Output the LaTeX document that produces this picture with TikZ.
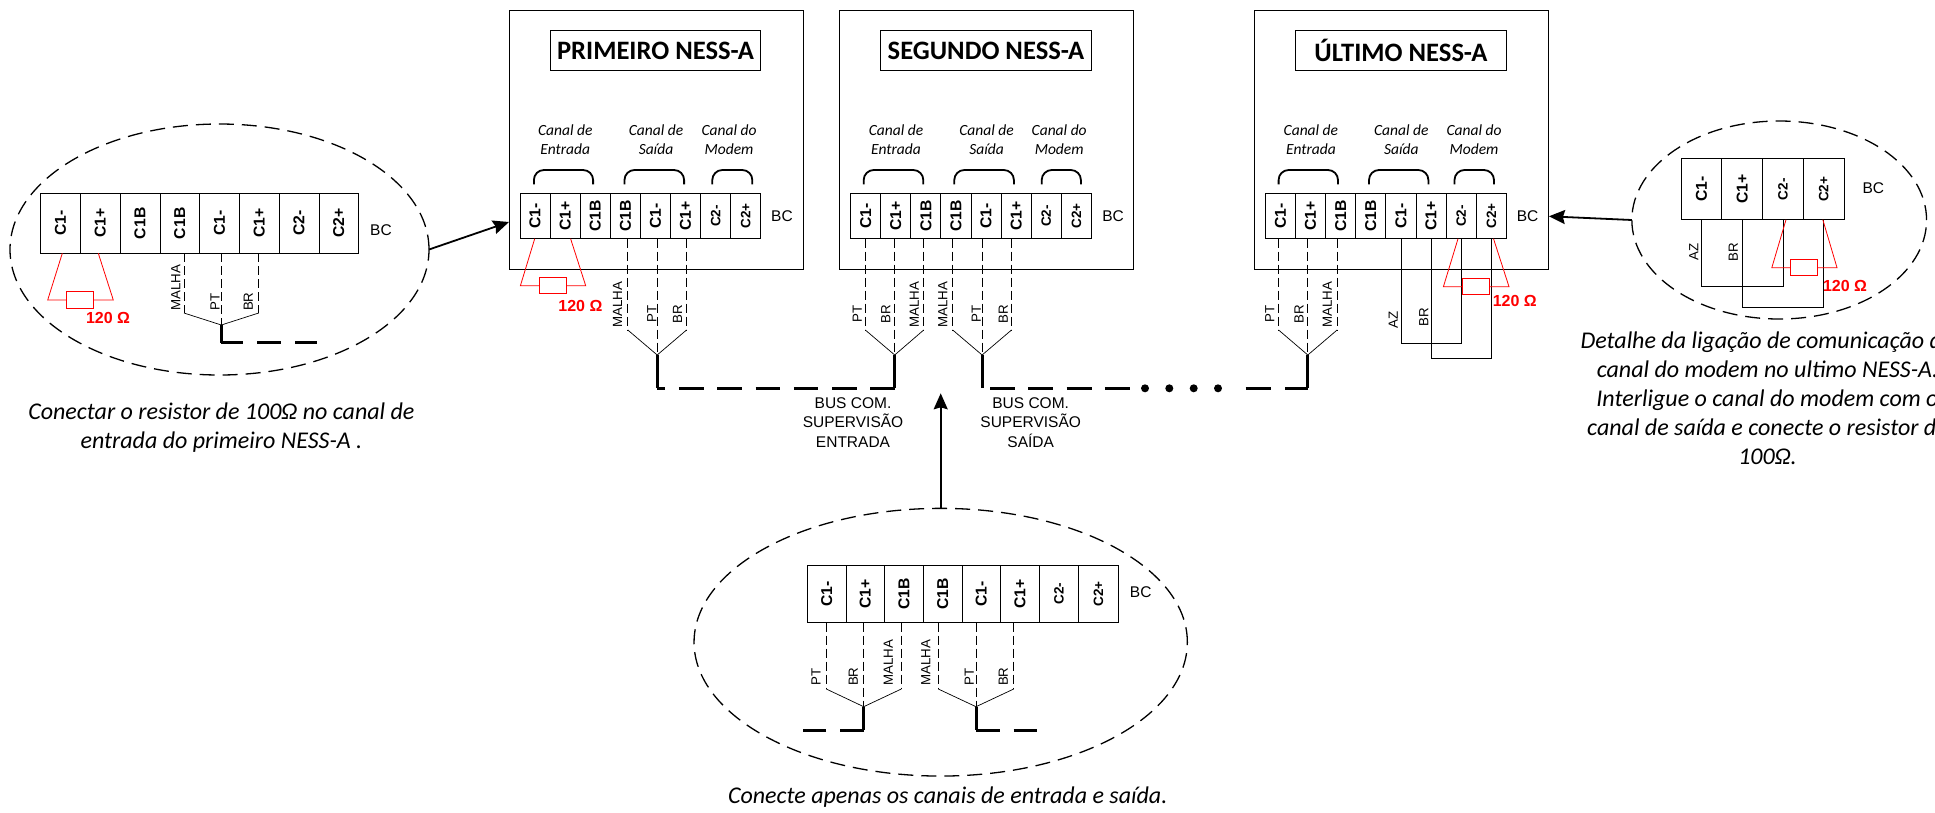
\documentclass[tikz,border=0pt]{standalone}
\usepackage{fontspec}
\setmainfont{Carlito}
\setsansfont{Liberation Sans}
\usetikzlibrary{shapes.geometric, arrows.meta, positioning}

\newcommand{\termb}{\sffamily\bfseries\fontsize{15.7}{15.7}\selectfont}
\newcommand{\terml}{\sffamily\bfseries\fontsize{13.5}{13.5}\selectfont}

% terminal strip: name, left, top, cell width, cell height, labels
\newcommand{\ctstrip}[6]{
	\foreach \lab/\sty [count=\i] in {#6}
		\node [termcell, minimum width=#4, minimum height=#5] (#1-\i) at ({#2+(\i-0.5)*#4},{#3+#5/2}) {\rotatebox{90}{\sty \lab}};
}

\tikzset{
	termcell/.style={draw, inner sep=0, outer sep=0, line width=0.9pt},
	nessbox/.style={draw, inner sep=0, outer sep=0, line width=1pt},
	nesstitle/.style={draw, inner sep=0, outer sep=0, line width=1pt, font=\bfseries\fontsize{26.6}{26.6}\selectfont},
	detail/.style={draw, ellipse, inner sep=0, outer sep=0, line width=1.3pt, dash pattern=on 15pt off 8pt},
	bclabel/.style={inner sep=0, font=\sffamily\fontsize{15.5}{15.5}\selectfont},
	wirelabel/.style={inner sep=0, rotate=90, font=\sffamily\fontsize{13.3}{13.3}\selectfont},
	canallabel/.style={inner sep=0, align=center, font=\itshape\fontsize{15.5}{19}\selectfont},
	buslabel/.style={inner sep=0, align=center, font=\sffamily\fontsize{15.5}{19.5}\selectfont},
	caption/.style={inner sep=0, align=center, font=\itshape\fontsize{24}{29}\selectfont},
	bracket/.style={line width=1.8pt, rounded corners=10pt},
	wire/.style={line width=0.7pt},
	wiredash/.style={line width=0.8pt, dash pattern=on 9pt off 4pt},
	busline/.style={line width=3pt},
	busdash/.style={line width=3pt, dash pattern=on 24.6pt off 13.7pt},
	busdot/.style={circle, fill, inner sep=0, minimum size=8pt},
	redwire/.style={red, line width=0.8pt},
	resbox/.style={draw=red, fill=white, inner sep=0, outer sep=0, line width=0.9pt},
	reslabel/.style={inner sep=0, red, font=\sffamily\bfseries\fontsize{16}{16}\selectfont},
	bigarrow/.style={line width=1.8pt, -{Stealth[length=16pt, width=14pt, inset=2pt]}}
}

\begin{document}
\begin{tikzpicture}[x=1pt, y=-1pt]
	\useasboundingbox (0,0) rectangle (1935,812);

	% the three units
	\node [nessbox, minimum width=294.3, minimum height=258.6] (box1) at (656.15,140) {};
	\node [nessbox, minimum width=294.3, minimum height=258.6] (box2) at (986.75,140) {};
	\node [nessbox, minimum width=293.9, minimum height=258.6] (box3) at (1401.55,140) {};
	\node [nesstitle, minimum width=210.6, minimum height=40] (tit1) at (655.5,50.7) {PRIMEIRO NESS-A};
	\node [nesstitle, minimum width=211.1, minimum height=40] (tit2) at (985.95,50.7) {SEGUNDO NESS-A};
	\node [nesstitle, minimum width=211, minimum height=40] (tit3) at (1400.9,50.7) {ÚLTIMO NESS-A};

	% the detail ellipses
	\node [detail, minimum width=419, minimum height=251] (det1) at (219.5,249.5) {};
	\node [detail, minimum width=493.3, minimum height=267.7] (det2) at (940.7,642.2) {};
	\node [detail, minimum width=294.7, minimum height=198] (det3) at (1779.2,220) {};

	% terminal strips
	\ctstrip{p}{520}{193.3}{30.1}{45.4}{C1-/\termb,C1+/\termb,C1B/\termb,C1B/\termb,C1-/\termb,C1+/\termb,C2-/\terml,C2+/\terml}
	\ctstrip{s}{850.6}{193.3}{30.1}{45.4}{C1-/\termb,C1+/\termb,C1B/\termb,C1B/\termb,C1-/\termb,C1+/\termb,C2-/\terml,C2+/\terml}
	\ctstrip{u}{1265.3}{193.3}{30.14}{45.4}{C1-/\termb,C1+/\termb,C1B/\termb,C1B/\termb,C1-/\termb,C1+/\termb,C2-/\terml,C2+/\terml}
	\ctstrip{da}{40.7}{193.3}{39.75}{60}{C1-/\termb,C1+/\termb,C1B/\termb,C1B/\termb,C1-/\termb,C1+/\termb,C2-/\termb,C2+/\termb}
	\ctstrip{db}{807.3}{565}{38.67}{57.7}{C1-/\termb,C1+/\termb,C1B/\termb,C1B/\termb,C1-/\termb,C1+/\termb}
	\ctstrip{dc}{1039.3}{565}{39.5}{57.7}{C2-/\terml,C2+/\terml}
	\ctstrip{dd}{1681}{158.7}{40.75}{61}{C1-/\termb,C1+/\termb,C2-/\terml,C2+/\terml}

	\foreach \x/\y [count=\i] in {381/230,782/215.7,1113.1/215.7,1527.6/215.7,1140.7/591.7,1873.3/188.3}
		\node [bclabel] (bc\i) at (\x,\y) {BC};

	% channel captions and their brackets
	\foreach \x/\txt [count=\i] in {565.3/Canal de\\Entrada,656/Canal de\\Saída,729/Canal do\\Modem,
		896/Canal de\\Entrada,986.6/Canal de\\Saída,1059.2/Canal do\\Modem,
		1310.9/Canal de\\Entrada,1401.3/Canal de\\Saída,1474/Canal do\\Modem}
		\node [canallabel] (can\i) at (\x,139.5) {\txt};
	\foreach \xa/\xb in {533.9/593.1,624.5/684.1,712.3/752.3,863.7/923.3,954.3/1013.9,1041.7/1080.9,1278.6/1338,1369/1428.4,1454.5/1494}
		\draw [bracket] (\xa,184.3) -- (\xa,170) -- (\xb,170) -- (\xb,184.3);

	% cable fans
	\foreach \nm/\ca/\cb/\cc/\xa/\xb/\xc/\ye/\yj/\yb in {
		fa/da-4/da-5/da-6/184/221.3/258.7/313/325/342.7,
		fb/p-4/p-5/p-6/627.8/657.2/686.5/330/355/388.3,
		fc/s-1/s-2/s-3/865.3/894.7/923.7/330/355/388.3,
		fd/s-4/s-5/s-6/952.7/982.1/1011.5/330/355/388.3,
		fe/u-1/u-2/u-3/1278.6/1307.8/1337.1/330/355/388.3,
		ff/db-1/db-2/db-3/826.3/863.7/901.3/689/706.7/730.3,
		fg/db-4/db-5/db-6/938.3/976/1013.7/689/706.7/730.3}
	{
		\coordinate (\nm a) at (\xa,\ye);
		\coordinate (\nm c) at (\xc,\ye);
		\coordinate (\nm j) at (\xb,\yj);
		\coordinate (\nm k) at (\xb,\yb);
		\draw [wiredash] (\ca.south -| \nm a) -- (\nm a);
		\draw [wiredash] (\cb.south -| \nm j) -- (\nm j);
		\draw [wiredash] (\cc.south -| \nm c) -- (\nm c);
		\draw [wire] (\nm a) -- (\nm j) -- (\nm c);
		\draw [busline] (\nm j) -- (\nm k);
	}

	% bus runs
	\coordinate (faend) at (320,342.7);
	\coordinate (fbus) at (990,388.3);
	\coordinate (fbusend) at (1130,388.3);
	\coordinate (lbus) at (1245.7,388.3);
	\coordinate (ffend) at (802.3,730.3);
	\coordinate (fgend) at (1037.3,730.3);
	\draw [busdash, dash pattern=on 22pt off 14pt on 24pt off 14pt] (fak) -- (faend);
	\draw [busdash, dash phase=16.6pt] (fbk) -- (fck);
	\draw [busdash, dash pattern=on 25pt off 13.3pt] (fbus) -- (fbusend);
	\draw [busdash, dash pattern=on 25pt off 14.3pt] (lbus) -- (fek);
	\draw [busdash, dash pattern=on 23.5pt off 14pt] (ffk) -- (ffend);
	\draw [busdash, dash pattern=on 23.5pt off 14pt] (fgk) -- (fgend);
	\foreach \x [count=\i] in {1145,1169.3,1193.7,1218}
		\node [busdot] (dot\i) at (\x,388.3) {};

	% jumpers from modem channel to output channel
	\foreach \a/\b/\d in {u-5/u-7/104.6,u-6/u-8/119.6,dd-1/dd-3/66.6,dd-2/dd-4/87.3}
		\draw [wire] (\a.south) -- ++(0,\d) -| (\b.south);

	% terminating resistors
	\foreach \rn/\ca/\cb/\xa/\xl/\xc/\rw/\xr/\xb/\yc/\lx/\ly in {
		ra/da-1/da-2/62.3/47.7/80/26.6/113.3/98.3/300/108/318,
		rb/p-1/p-2/534.7/520.4/552.85/26.5/585.7/570.6/285.7/580.4/305.7,
		rc/u-7/u-8/1458/1443.4/1476/27/1509/1493.5/286.7/1514.8/300.7,
		rd/dd-3/dd-4/1786/1771.8/1804.2/26.6/1837/1822.8/267.7/1845/285.7}
	{
		\coordinate (\rn a) at (\xa,\yc);
		\coordinate (\rn b) at (\xb,\yc);
		\node [resbox, minimum width=\rw, minimum height=16.3] (\rn) at (\xc,\yc) {};
		\draw [redwire] (\ca.south -| \rn a) -- (\xl,\yc) -- (\rn.west);
		\draw [redwire] (\cb.south -| \rn b) -- (\xr,\yc) -- (\rn.east);
		\node [reslabel] (\rn t) at (\lx,\ly) {120 Ω};
	}

	% wire names
	\foreach \x/\y/\txt [count=\i] in {175.7/287.7/MALHA,215/301.7/PT,248.3/301.7/BR,
		617.6/305/MALHA,651.9/314/PT,677.6/314/BR,
		857.2/314/PT,885.7/314/BR,914.3/305/MALHA,942.9/305/MALHA,976.4/314/PT,1003.3/314/BR,
		1269.7/314/PT,1299/314/BR,1327.3/305/MALHA,1393.3/320/AZ,1423.9/317.3/BR,
		816/676.7/PT,853.3/676.7/BR,888.3/662.7/MALHA,925.7/662.7/MALHA,969.3/676.7/PT,1003.3/676.7/BR,
		1693.8/252.3/AZ,1733.3/252.3/BR}
		\node [wirelabel] (wl\i) at (\x,\y) {\txt};

	\node [buslabel] (busin) at (853,422.3) {BUS COM.\\SUPERVISÃO\\ENTRADA};
	\node [buslabel] (busout) at (1030.7,422.3) {BUS COM.\\SUPERVISÃO\\SAÍDA};

	% arrows from the details to the strips
	\coordinate (arra) at (509,222);
	\coordinate (arrb) at (940.7,393.3);
	\coordinate (arrc) at (1548.9,216.3);
	\draw [bigarrow] (det1.east) -- (arra);
	\draw [bigarrow] (det2.north) -- (arrb);
	\draw [bigarrow] (det3.west) -- (arrc);

	\node [caption] (capa) at (221.4,428) {Conectar o resistor de 100Ω no canal de\\entrada do primeiro NESS-A .};
	\node [caption] (capb) at (947.7,797.5) {Conecte apenas os canais de entrada e saída.};
	\node [caption] (capc) at (1767.5,398.5) {Detalhe da ligação de comunicação do\\canal do modem no ultimo NESS-A.\\Interligue o canal do modem com o\\canal de saída e conecte o resistor de\\100Ω.};
\end{tikzpicture}
\end{document}
